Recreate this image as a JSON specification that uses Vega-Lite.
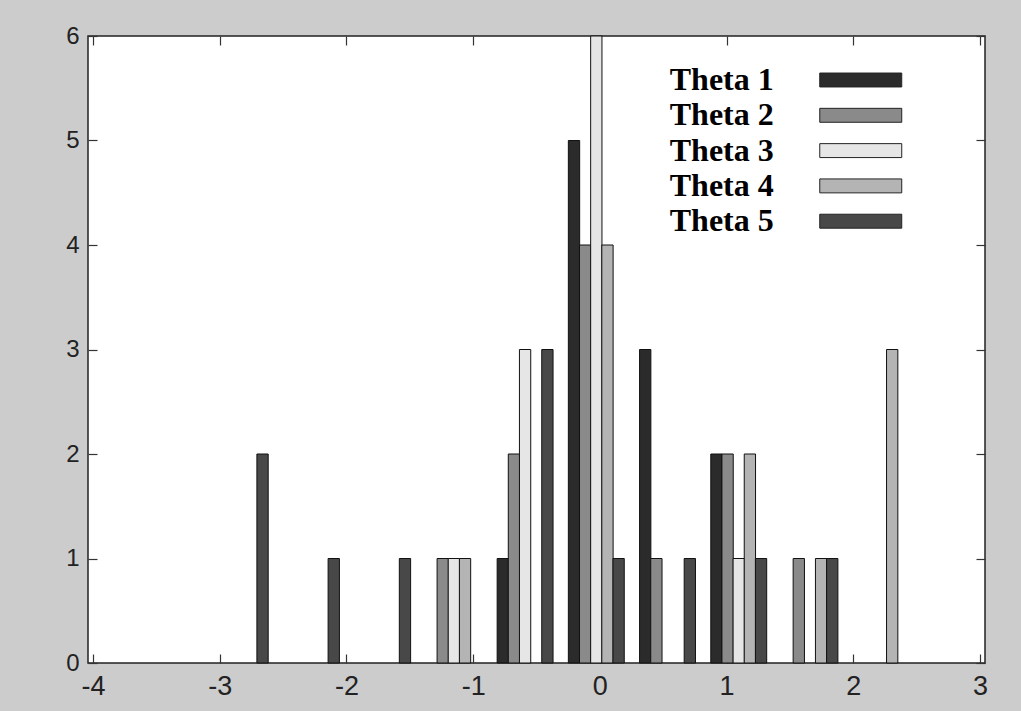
{
  "$schema": "https://vega.github.io/schema/vega-lite/v6.json",
  "width": 897,
  "height": 627,
  "autosize": {"type": "none"},
  "padding": {"left": 88, "top": 36, "right": 36, "bottom": 48},
  "background": "#cccccc",
  "config": {
    "view": {"stroke": "#222222", "strokeWidth": 1.5, "fill": "white"},
    "axis": {"grid": false, "title": null, "domain": false, "tickSize": -9, "tickColor": "#333333", "tickWidth": 1.2, "labelColor": "#222222", "labelFont": "Liberation Sans Narrow, Liberation Sans, Arial", "labelFontWeight": "normal"}
  },
  "data": {
    "values": [
      {"x": -2.662, "theta": "Theta 5", "count": 2},
      {"x": -2.100, "theta": "Theta 5", "count": 1},
      {"x": -1.538, "theta": "Theta 5", "count": 1},
      {"x": -1.240, "theta": "Theta 2", "count": 1},
      {"x": -1.152, "theta": "Theta 3", "count": 1},
      {"x": -1.064, "theta": "Theta 4", "count": 1},
      {"x": -0.766, "theta": "Theta 1", "count": 1},
      {"x": -0.678, "theta": "Theta 2", "count": 2},
      {"x": -0.590, "theta": "Theta 3", "count": 3},
      {"x": -0.414, "theta": "Theta 5", "count": 3},
      {"x": -0.204, "theta": "Theta 1", "count": 5},
      {"x": -0.116, "theta": "Theta 2", "count": 4},
      {"x": -0.028, "theta": "Theta 3", "count": 6},
      {"x": 0.060, "theta": "Theta 4", "count": 4},
      {"x": 0.148, "theta": "Theta 5", "count": 1},
      {"x": 0.358, "theta": "Theta 1", "count": 3},
      {"x": 0.446, "theta": "Theta 2", "count": 1},
      {"x": 0.710, "theta": "Theta 5", "count": 1},
      {"x": 0.920, "theta": "Theta 1", "count": 2},
      {"x": 1.008, "theta": "Theta 2", "count": 2},
      {"x": 1.096, "theta": "Theta 3", "count": 1},
      {"x": 1.184, "theta": "Theta 4", "count": 2},
      {"x": 1.272, "theta": "Theta 5", "count": 1},
      {"x": 1.570, "theta": "Theta 2", "count": 1},
      {"x": 1.746, "theta": "Theta 4", "count": 1},
      {"x": 1.834, "theta": "Theta 5", "count": 1},
      {"x": 2.307, "theta": "Theta 4", "count": 3}
    ]
  },
  "layer": [
    {
      "mark": {"type": "bar", "width": 11.3, "stroke": "#111111", "strokeWidth": 1, "opacity": 1},
      "encoding": {
        "x": {"field": "x", "type": "quantitative", "scale": {"domain": [-4, 3], "nice": false, "zero": false},
              "axis": {"orient": "bottom", "values": [-4, -3, -2, -1, 0, 1, 2, 3], "labelExpr": "'' + datum.value", "labelFontSize": 27, "labelPadding": 19}},
        "y": {"field": "count", "type": "quantitative", "scale": {"domain": [0, 6], "nice": false},
              "axis": {"orient": "left", "values": [0, 1, 2, 3, 4, 5, 6], "labelFontSize": 24, "labelPadding": 18}},
        "color": {"field": "theta", "type": "nominal",
                  "scale": {"domain": ["Theta 1", "Theta 2", "Theta 3", "Theta 4", "Theta 5"], "range": ["#2b2b2b", "#8a8a8a", "#e6e6e6", "#b4b4b4", "#484848"]},
                  "legend": {"orient": "none", "legendX": 756.75, "legendY": 28, "padding": 0, "title": null,
                             "symbolType": "M-4,-0.68H4V0.68H-4Z", "symbolSize": 420, "symbolStrokeColor": "#222222", "symbolStrokeWidth": 1, "symbolOpacity": 1,
                             "labelAlign": "right", "labelOffset": -103, "labelFont": "Liberation Serif", "labelFontWeight": "bold", "labelFontSize": 32, "labelColor": "#000000", "labelLimit": 300, "rowPadding": 3.3}}
      }
    },
    {
      "mark": {"type": "point", "opacity": 0},
      "encoding": {
        "x": {"field": "x", "type": "quantitative", "scale": {"domain": [-4, 3], "nice": false, "zero": false},
              "axis": {"orient": "top", "values": [-4, -3, -2, -1, 0, 1, 2, 3], "labels": false}},
        "y": {"field": "count", "type": "quantitative", "scale": {"domain": [0, 6], "nice": false},
              "axis": {"orient": "right", "values": [0, 1, 2, 3, 4, 5, 6], "labels": false}}
      }
    }
  ],
  "resolve": {"axis": {"x": "independent", "y": "independent"}}
}
